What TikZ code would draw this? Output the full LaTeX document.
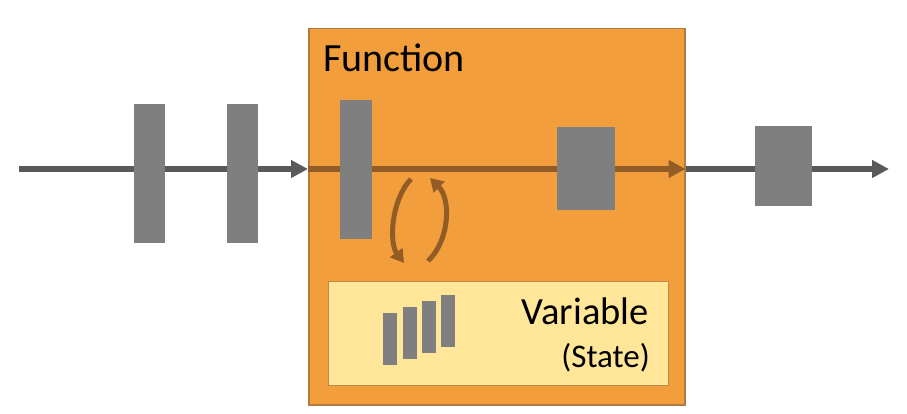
\documentclass[tikz,border=0pt]{standalone}
\usepackage{fontspec}
\setmainfont{Carlito}
\usetikzlibrary{arrows.meta}
\definecolor{orfill}{RGB}{243,158,60}
\definecolor{ordraw}{RGB}{176,122,64}
\definecolor{brownln}{RGB}{145,92,38}
\definecolor{grayrect}{RGB}{127,127,127}
\definecolor{grayln}{RGB}{89,89,89}
\definecolor{varfill}{RGB}{255,230,153}
\definecolor{vardraw}{RGB}{185,138,72}
\pgfdeclarelayer{back}
\pgfdeclarelayer{lines}
\pgfsetlayers{back,lines,main}
\tikzset{
  funcbox/.style={draw=ordraw, line width=1.5pt, fill=orfill, inner sep=0pt, anchor=north west},
  varbox/.style={draw=vardraw, line width=1.2pt, fill=varfill, inner sep=0pt, anchor=north west},
  grect/.style={fill=grayrect, draw=none, inner sep=0pt, anchor=north west},
  gline/.style={draw=grayln, line width=5.5pt, -{Triangle[length=17pt,width=17pt]}},
  bline/.style={draw=brownln, line width=5.5pt, -{Triangle[length=17pt,width=17pt]}},
  cyc/.style={draw=brownln, line width=5pt, -{Triangle[length=13pt,width=15pt]}},
  lbl/.style={inner sep=0pt, text=black}
}
\begin{document}
\begin{tikzpicture}[x=1pt,y=-1pt]
\useasboundingbox (0,0) rectangle (907,414);
\begin{pgfonlayer}{back}
\node[funcbox, minimum width=376pt, minimum height=376pt] (func) at (308,28) {};
\node[varbox, minimum width=340pt, minimum height=104pt] (var) at (328,281) {};
\end{pgfonlayer}
% gray blocks
\node[grect, minimum width=31pt, minimum height=139pt] (r1) at (134,104) {};
\node[grect, minimum width=31pt, minimum height=139pt] (r2) at (227,104) {};
\node[grect, minimum width=32pt, minimum height=139pt] (r3) at (340,100) {};
\node[grect, minimum width=58pt, minimum height=83pt] (r4) at (557,127) {};
\node[grect, minimum width=57pt, minimum height=80pt] (r5) at (755,126) {};
% state bars
\node[grect, minimum width=14pt, minimum height=52pt] (b1) at (383,313) {};
\node[grect, minimum width=14pt, minimum height=52pt] (b2) at (403,307) {};
\node[grect, minimum width=14pt, minimum height=52pt] (b3) at (422,301) {};
\node[grect, minimum width=14pt, minimum height=52pt] (b4) at (441,295) {};
% labels
\node[lbl, anchor=base west] (ftxt) at (323,72) {\fontsize{40}{47}\selectfont Function};
\node[lbl, anchor=base east] (vtxt) at (649,324) {\fontsize{38.5}{45}\selectfont Variable};
\node[lbl, anchor=base east] (stxt) at (650,367) {\fontsize{33}{39}\selectfont (State)};
% flow line
\coordinate (start) at (19,169);
\coordinate (end) at (889,169);
\begin{pgfonlayer}{lines}
\draw[gline] (start) -- (start -| func.west);
\draw[bline] (start -| func.west) -- (start -| func.east);
\draw[gline] (start -| func.east) -- (end);
\end{pgfonlayer}
% cycle arrows
\coordinate (c1) at (411,179);
\coordinate (c2) at (404,263);
\coordinate (c3) at (428,261);
\coordinate (c4) at (430,178);
\draw[cyc] (c1) .. controls (391,200) and (389,243) .. (c2);
\draw[cyc] (c3) .. controls (450,240) and (451,199) .. (c4);
\end{tikzpicture}
\end{document}
